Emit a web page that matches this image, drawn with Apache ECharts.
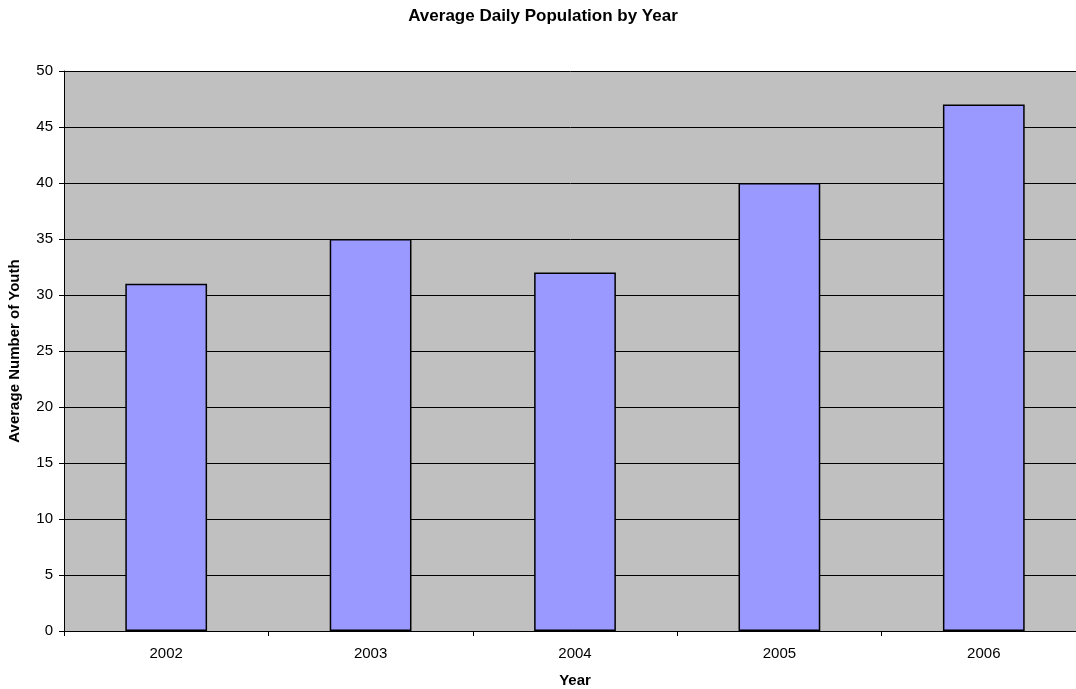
<!DOCTYPE html>
<html><head><meta charset="utf-8">
<script src="https://cdn.jsdelivr.net/npm/echarts@6/dist/echarts.min.js"></script>
<style>html,body{margin:0;padding:0;background:#fff}#c{width:1076px;height:689px}</style>
</head><body><div id="c"></div>
<script>
const categories = ['2002','2003','2004','2005','2006'];
const values = [31, 35, 32, 40, 47];
const title = 'Average Daily Population by Year';
const yName = 'Average Number of Youth';
const xName = 'Year';

const chart = echarts.init(document.getElementById('c'), null, {renderer:'canvas'});
const font = '"Liberation Sans", Arial, sans-serif';
chart.setOption({
  animation:false,
  backgroundColor:'#fff',
  title:{text:title,left:538,textAlign:'center',top:3,textStyle:{fontFamily:font,fontSize:17,fontWeight:'bold',color:'#000'}},
  grid:{left:64,right:-10,top:71,bottom:58,show:true,backgroundColor:'#c0c0c0',borderWidth:0,outerBoundsMode:'none',containLabel:false},
  xAxis:{type:'category',data:categories,name:xName,nameLocation:'middle',nameGap:42,
    nameTextStyle:{fontFamily:font,fontSize:15,fontWeight:'bold',color:'#000'},
    axisLine:{lineStyle:{color:'#000',width:1}},
    axisTick:{show:true,length:5,lineStyle:{color:'#000'}},
    axisLabel:{fontFamily:font,fontSize:15,color:'#000',margin:15}},
  yAxis:{type:'value',min:0,max:50,interval:5,name:yName,nameLocation:'middle',nameGap:42,nameRotate:90,
    nameTextStyle:{fontFamily:font,fontSize:15,fontWeight:'bold',color:'#000'},
    axisLine:{show:true,lineStyle:{color:'#000',width:1}},
    axisTick:{show:true,length:5,lineStyle:{color:'#000'}},
    axisLabel:{fontFamily:font,fontSize:15,color:'#000',margin:11},
    splitLine:{show:true,lineStyle:{color:'#000',width:1}}},
  series:[{type:'bar',data:values,barWidth:'40%',
    itemStyle:{color:'#9999ff',borderColor:'#000',borderWidth:1.5}}]
});
</script></body></html>
